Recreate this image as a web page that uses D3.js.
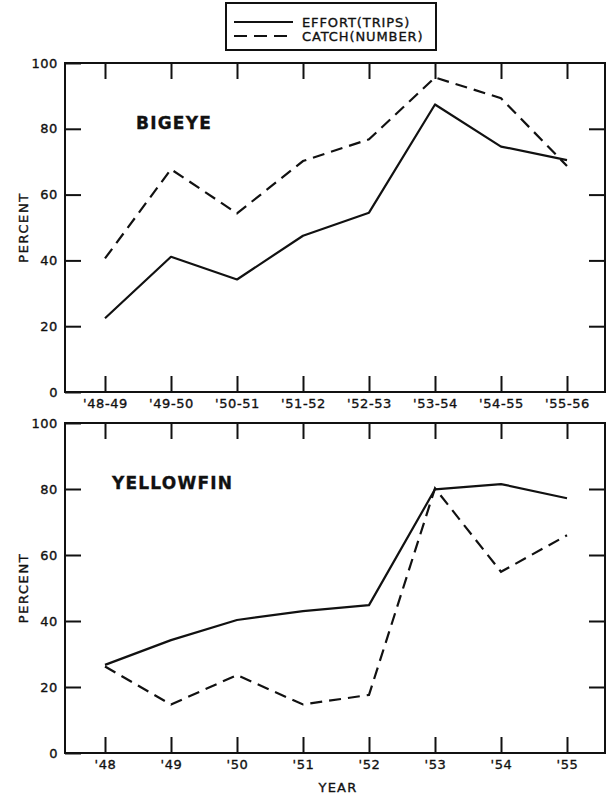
<!DOCTYPE html>
<html>
<head>
<meta charset="utf-8">
<script src="https://cdn.jsdelivr.net/npm/d3@7"></script>
<style>
  html, body { margin: 0; padding: 0; background: #fff; }
  svg { display: block; }
  text { font-family: "DejaVu Sans", sans-serif; fill: #111; stroke: #111; stroke-width: 0.35px; }
</style>
</head>
<body>
<svg id="chart" width="614" height="796"></svg>
<script>
// Seasons (bigeye) and years (yellowfin) along the x axis
const bigeyeSeasons = ["'48-49", "'49-50", "'50-51", "'51-52", "'52-53", "'53-54", "'54-55", "'55-56"];
const yellowfinYears = ["'48", "'49", "'50", "'51", "'52", "'53", "'54", "'55"];

// Percent values
const bigeyeEffort = [22.4, 41.1, 34.2, 47.5, 54.5, 87.4, 74.6, 70.5];
const bigeyeCatch = [40.6, 67.7, 54.3, 70.2, 76.8, 95.6, 89.3, 68.7];
const yellowfinEffort = [26.7, 34.2, 40.3, 43.0, 44.8, 79.9, 81.5, 77.2];
const yellowfinCatch = [26.2, 14.7, 23.6, 14.7, 17.6, 80.2, 54.9, 66.0];

const yTicks = [0, 20, 40, 60, 80, 100];
const legendItems = ["EFFORT(TRIPS)", "CATCH(NUMBER)"];

const svg = d3.select("#chart");
const ink = "#111";
const dash = "12,7";

const left = 65, right = 605;

function panel(cfg) {
  const g = svg.append("g");
  const x = d3.scalePoint().domain(cfg.categories).range([105, 567]);
  const y = d3.scaleLinear().domain([0, 100]).range([cfg.bottom, cfg.top]);

  // Frame
  g.append("rect")
    .attr("x", left).attr("y", cfg.top)
    .attr("width", right - left).attr("height", cfg.bottom - cfg.top)
    .attr("fill", "none").attr("stroke", ink).attr("stroke-width", 2);

  const styleAxis = sel => {
    sel.select(".domain").remove();
    sel.selectAll(".tick line").attr("stroke", ink).attr("stroke-width", 2);
    sel.selectAll(".tick text")
      .style("font-family", "'DejaVu Sans', sans-serif")
      .style("font-size", "13px")
      .style("letter-spacing", "0.6px")
      .attr("fill", ink);
  };

  g.append("g").attr("transform", `translate(${left},0)`)
    .call(d3.axisLeft(y).tickValues(yTicks).tickSize(-16).tickPadding(7))
    .call(styleAxis);
  g.append("g").attr("transform", `translate(${right},0)`)
    .call(d3.axisRight(y).tickValues(yTicks.slice(1, -1)).tickSize(-16).tickFormat(""))
    .call(styleAxis);
  g.append("g").attr("transform", `translate(0,${cfg.bottom})`)
    .call(d3.axisBottom(x).tickSize(-16).tickPadding(7))
    .call(styleAxis);
  g.append("g").attr("transform", `translate(0,${cfg.top})`)
    .call(d3.axisTop(x).tickSize(-16).tickFormat(""))
    .call(styleAxis);

  const line = d3.line()
    .x((d, i) => x(cfg.categories[i]))
    .y(d => y(d));

  g.append("path").datum(cfg.effort)
    .attr("d", line).attr("fill", "none")
    .attr("stroke", ink).attr("stroke-width", 2.2)
    .attr("stroke-linejoin", "round");
  g.append("path").datum(cfg.catch)
    .attr("d", line).attr("fill", "none")
    .attr("stroke", ink).attr("stroke-width", 2.2)
    .attr("stroke-dasharray", dash);

  // Species label
  g.append("text")
    .attr("x", cfg.labelX).attr("y", cfg.labelY)
    .attr("dy", "0.35em")
    .style("font-size", "17px").style("font-weight", "bold")
    .style("letter-spacing", "1.2px")
    .text(cfg.name);

  // Y axis title
  g.append("text")
    .attr("transform", `translate(23,${(cfg.top + cfg.bottom) / 2}) rotate(-90)`)
    .attr("text-anchor", "middle").attr("dy", "0.35em")
    .style("font-size", "13px").style("letter-spacing", "1.6px")
    .text("PERCENT");

  return { x, y };
}

panel({
  name: "BIGEYE", categories: bigeyeSeasons,
  effort: bigeyeEffort, catch: bigeyeCatch,
  top: 63, bottom: 392, labelX: 136, labelY: 123
});
panel({
  name: "YELLOWFIN", categories: yellowfinYears,
  effort: yellowfinEffort, catch: yellowfinCatch,
  top: 423, bottom: 753, labelX: 112, labelY: 483
});

// X axis title
svg.append("text")
  .attr("x", 338).attr("y", 787).attr("text-anchor", "middle")
  .attr("dy", "0.35em")
  .style("font-size", "13px").style("letter-spacing", "1.2px")
  .text("YEAR");

// Legend
const lg = svg.append("g");
lg.append("rect")
  .attr("x", 226).attr("y", 3).attr("width", 210).attr("height", 47)
  .attr("fill", "none").attr("stroke", ink).attr("stroke-width", 2);
legendItems.forEach((label, i) => {
  const cy = 22 + i * 14;
  lg.append("line")
    .attr("x1", 234).attr("x2", 293).attr("y1", cy).attr("y2", cy)
    .attr("stroke", ink).attr("stroke-width", 2)
    .attr("stroke-dasharray", i === 1 ? "13,7" : null);
  lg.append("text")
    .attr("x", 302).attr("y", cy).attr("dy", "0.36em")
    .style("font-size", "13px").style("letter-spacing", "0.9px")
    .text(label);
});
</script>
</body>
</html>
